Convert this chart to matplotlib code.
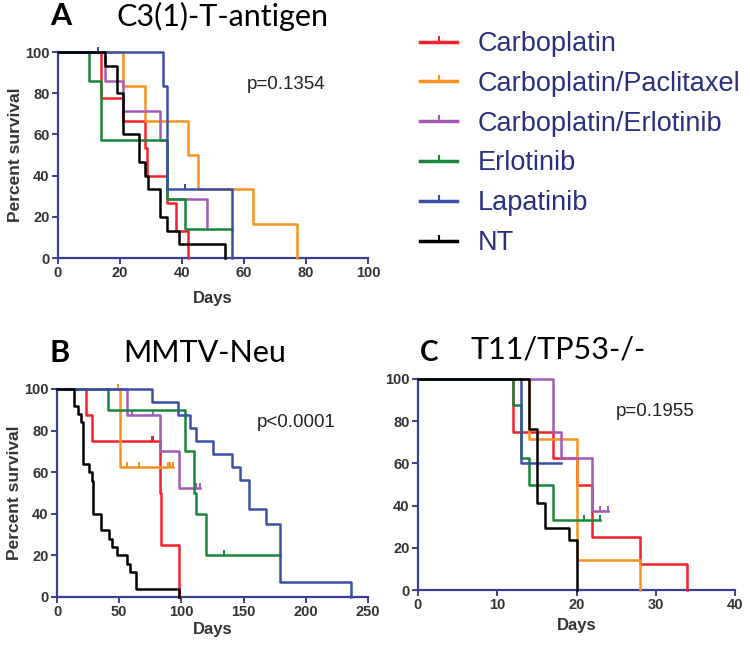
import numpy as np
import matplotlib
matplotlib.use('Agg')
import matplotlib.pyplot as plt
from matplotlib.lines import Line2D
from matplotlib.path import Path

plt.rcParams['font.family'] = ['Liberation Sans', 'DejaVu Sans']

groups = ['Carboplatin', 'Carboplatin/Paclitaxel', 'Carboplatin/Erlotinib',
          'Erlotinib', 'Lapatinib', 'NT']
colors = ['#f2202b', '#f7921e', '#a55bb5', '#17873b', '#3b4fa6', '#000000']

# panel A: C3(1)-T-antigen  (event times in days, survival % after each step)
a_times = {
    'Carboplatin': [0, 14, 21, 28, 28.6, 35, 38, 42],
    'Carboplatin/Paclitaxel': [0, 21, 28, 42, 45, 63, 77],
    'Carboplatin/Erlotinib': [0, 15, 21, 33, 35, 48],
    'Erlotinib': [0, 10, 14, 35, 41, 56],
    'Lapatinib': [0, 34, 35, 56],
    'NT': [0, 15, 19, 21, 26, 28, 29, 33, 35, 39, 54],
}
a_surv = {
    'Carboplatin': [100, 77.8, 66.7, 53.3, 40, 26.7, 13.3, 0],
    'Carboplatin/Paclitaxel': [100, 83.3, 66.7, 50, 33.3, 16.7, 0],
    'Carboplatin/Erlotinib': [100, 85.7, 71.4, 57.1, 28.6, 14.3],
    'Erlotinib': [100, 85.7, 57.1, 28.6, 14.3, 14.3],
    'Lapatinib': [100, 83.3, 33.3, 0],
    'NT': [100, 93.3, 80, 60, 46.7, 40, 33.3, 20, 13.3, 6.7, 0],
}
a_censor = {'Lapatinib': [13, 41]}

# panel B: MMTV-Neu
b_times = {
    'Carboplatin': [0, 23, 28, 83, 84, 98],
    'Carboplatin/Paclitaxel': [0, 51, 93.5],
    'Carboplatin/Erlotinib': [0, 56, 83, 98, 115],
    'Erlotinib': [0, 41, 103, 110, 112, 120, 179],
    'Lapatinib': [0, 76.5, 97, 107, 112, 125, 141, 147, 154, 168, 179, 236],
    'NT': [0, 14, 16.5, 19, 20.5, 26, 28, 29, 35, 42, 44, 48, 56, 59, 63.5, 98],
}
b_surv = {
    'Carboplatin': [100, 87.5, 75, 50, 25, 0],
    'Carboplatin/Paclitaxel': [100, 62.5, 62.5],
    'Carboplatin/Erlotinib': [100, 87.5, 70, 52.5, 52.5],
    'Erlotinib': [100, 90, 70, 50, 40, 20, 20],
    'Lapatinib': [100, 93.75, 87.5, 81.25, 75, 68.75, 62.5, 56.25, 42.2, 35.2, 7, 0],
    'NT': [100, 92, 88, 84, 64, 60, 56, 40, 32, 28, 24, 20, 16, 12, 4, 0],
}
b_censor = {
    'Carboplatin': [76, 77],
    'Carboplatin/Paclitaxel': [49, 56, 66, 89, 91, 93.5],
    'Carboplatin/Erlotinib': [60, 77, 112, 115],
    'Erlotinib': [134],
}

# panel C: T11/TP53-/-
c_times = {
    'Carboplatin': [0, 12, 17, 20, 22, 28, 34],
    'Carboplatin/Paclitaxel': [0, 14, 20, 28],
    'Carboplatin/Erlotinib': [0, 17, 18, 22, 24],
    'Erlotinib': [0, 12, 13, 14, 17, 23],
    'Lapatinib': [0, 13, 18],
    'NT': [0, 14, 15, 16, 19, 20],
}
c_surv = {
    'Carboplatin': [100, 75, 62.5, 50, 25, 12.5, 0],
    'Carboplatin/Paclitaxel': [100, 71.4, 14.3, 0],
    'Carboplatin/Erlotinib': [100, 75, 62.5, 37.5, 37.5],
    'Erlotinib': [100, 87.5, 62.5, 50, 33.3, 33.3],
    'Lapatinib': [100, 60, 60],
    'NT': [100, 76.5, 41.2, 29.4, 23.5, 0],
}
c_censor = {
    'Carboplatin/Erlotinib': [23, 24],
    'Erlotinib': [21, 23],
}

axis_col = '#3a3f94'
tick_marker = Path([(0, -0.3), (0, 1)], [Path.MOVETO, Path.LINETO])


def draw_km(ax, times, surv, censor, xmax, xstep, pval, pxy, labelpad, ylabel=True):
    for g, c in zip(groups, colors):
        t = np.array(times[g], dtype=float)
        s = np.array(surv[g], dtype=float)
        ax.step(t, s, where='post', color=c, lw=1.8, clip_on=False, zorder=3)
        if g in censor:
            ct = np.array(censor[g])
            idx = np.searchsorted(t, ct, side='right') - 1
            ax.plot(ct, s[idx], ls='none', marker=tick_marker, ms=7, mfc='none',
                    mec=c, mew=1.4, clip_on=False, zorder=3)
    ax.set_xlim(0, xmax)
    ax.set_ylim(0, 100)
    ax.set_xticks(np.arange(0, xmax + 1, xstep))
    ax.set_yticks(np.arange(0, 101, 20))
    for side in ['top', 'right']:
        ax.spines[side].set_visible(False)
    for side in ['left', 'bottom']:
        ax.spines[side].set_color(axis_col)
        ax.spines[side].set_linewidth(1.6)
    ax.tick_params(direction='out', length=4, width=1.4, color=axis_col,
                   labelcolor='#333333', labelsize=10.5, pad=2)
    for lab in ax.get_xticklabels() + ax.get_yticklabels():
        lab.set_fontweight('bold')
    ax.set_xlabel('Days', fontsize=12, fontweight='bold', color='#333333', labelpad=labelpad)
    if ylabel:
        ax.set_ylabel('Percent survival', fontsize=12.5, fontweight='bold',
                      color='#333333', labelpad=1.5)
    ax.text(pxy[0], pxy[1], pval, fontsize=13.5, color='#222222', va='center', ha='left')


fig = plt.figure(figsize=(7.5, 6.47), dpi=100)
W, H = 750, 647


def box(x0, x1, ytop, ybot):
    return [x0 / W, 1 - ybot / H, (x1 - x0) / W, (ybot - ytop) / H]


ax_a = fig.add_axes(box(58, 368, 52, 258))
ax_b = fig.add_axes(box(57, 368, 389, 597))
ax_c = fig.add_axes(box(418, 735, 379, 590))

draw_km(ax_a, a_times, a_surv, a_censor, 100, 20, 'p=0.1354', (61, 84), 8)
draw_km(ax_b, b_times, b_surv, b_censor, 250, 50, 'p<0.0001', (161, 84), 2)
draw_km(ax_c, c_times, c_surv, c_censor, 40, 10, 'p=0.1955', (25, 84.5), 4, ylabel=False)

# panel titles
title_font = ['Lato', 'DejaVu Sans']
fig.text(50 / W, 1 - 16 / H, 'A', fontsize=22, fontweight='bold', family=title_font, va='center')
fig.text(117 / W, 1 - 16 / H, 'C3(1)-T-antigen', fontsize=22, family=title_font, va='center')
fig.text(50 / W, 1 - 353 / H, 'B', fontsize=22, fontweight='bold', family=title_font, va='center')
fig.text(123 / W, 1 - 353 / H, 'MMTV-Neu', fontsize=22, family=title_font, va='center')
fig.text(420 / W, 1 - 353 / H, 'C', fontsize=20, fontweight='bold', family=title_font, va='center')
fig.text(470 / W, 1 - 350 / H, 'T11/TP53-/-', fontsize=22, family=title_font, va='center')

# legend
handles = [Line2D([], [], color=c, lw=2.5, marker=tick_marker, ms=9, mfc='none',
                  mec=c, mew=1.5) for c in colors]
fig.legend(handles, groups, loc='upper left', bbox_to_anchor=(420 / W, 1 - 31 / H),
           frameon=False, fontsize=19.5, labelcolor='#2a2f7f', handlelength=1.37,
           handletextpad=0.77, labelspacing=0.51, borderpad=0, borderaxespad=0,
           numpoints=1)

fig.savefig('out.png', dpi=100)
